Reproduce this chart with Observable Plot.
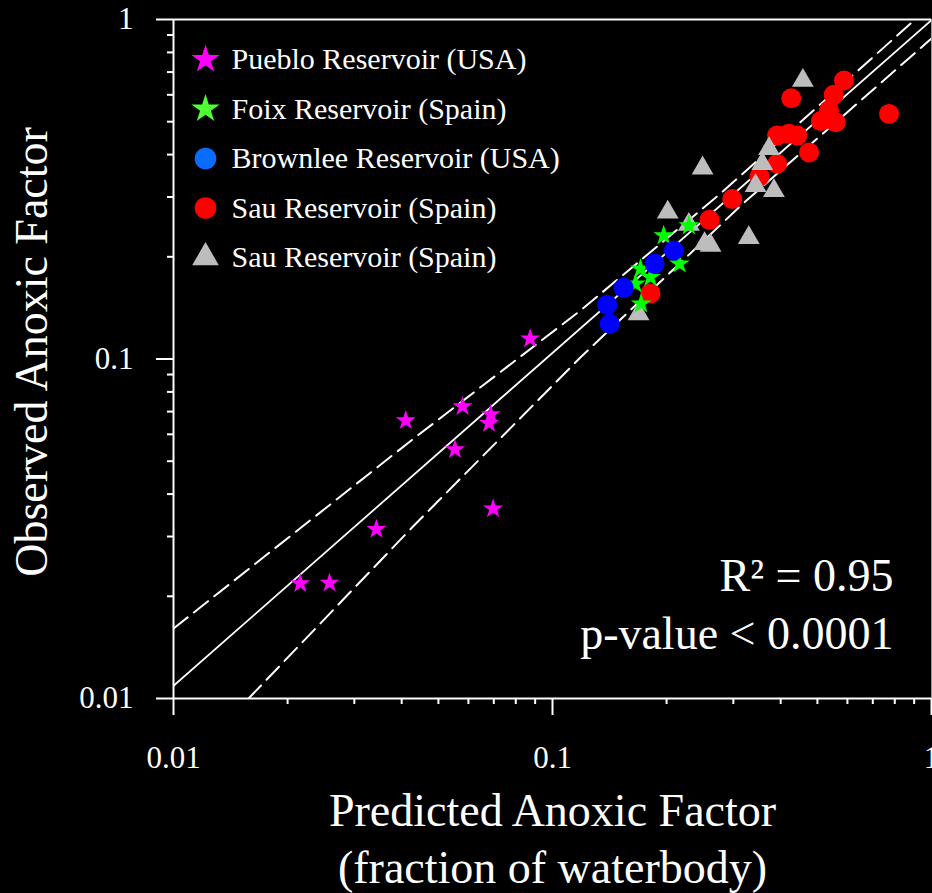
<!DOCTYPE html>
<html>
<head>
<meta charset="utf-8">
<script src="https://cdn.jsdelivr.net/npm/d3@7"></script>
<script src="https://cdn.jsdelivr.net/npm/@observablehq/plot@0.6"></script>
<style>
html, body { margin: 0; padding: 0; background: #000; }
#chart svg { display: block; }
</style>
</head>
<body>
<div id="chart"></div>
<script>
// ---- Data ----
const puebloX = [0.0873, 0.0579, 0.0410, 0.0687, 0.0680, 0.0553, 0.0697, 0.0343, 0.0216, 0.0258];
const puebloY = [0.1147, 0.0725, 0.0659, 0.0686, 0.0647, 0.0541, 0.0362, 0.0315, 0.0218, 0.0219];

const foixX = [0.229, 0.1965, 0.2163, 0.1707, 0.1813, 0.1655, 0.1713];
const foixY = [0.247, 0.231, 0.1907, 0.1844, 0.174, 0.1665, 0.1454];

const brownleeX = [0.209, 0.1859, 0.1541, 0.1394, 0.1415];
const brownleeY = [0.2088, 0.1907, 0.162, 0.1444, 0.127];

const sauRedX = [0.5875, 0.4265, 0.552, 0.5366, 0.7725, 0.5103, 0.5587, 0.3914, 0.4205, 0.4426, 0.4751, 0.3914, 0.3518, 0.2980, 0.2596, 0.1813];
const sauRedY = [0.661, 0.586, 0.600, 0.540, 0.527, 0.502, 0.498, 0.455, 0.461, 0.455, 0.406, 0.376, 0.345, 0.296, 0.257, 0.156];

const sauGrayX = [0.4577, 0.2489, 0.3726, 0.3577, 0.3434, 0.3839, 0.2014, 0.229, 0.2519, 0.2612, 0.3295, 0.1687];
const sauGrayY = [0.661, 0.365, 0.416, 0.376, 0.324, 0.313, 0.2706, 0.249, 0.2185, 0.216, 0.2275, 0.1358];

// regression line and its dashed band
const fitX = [0.01, 1];
const fitY = [0.0109, 0.996];
const upperX = [0.01, 0.02123, 0.04295, 0.1186, 0.2773, 0.889, 0.93];
const upperY = [0.01607, 0.03126, 0.05821, 0.1390, 0.3069, 0.982, 1.03];
const lowerX = [0.01578, 0.04266, 0.1186, 0.3162, 0.9638, 1.0];
const lowerY = [0.01, 0.03194, 0.1012, 0.2851, 0.848, 0.879];

// axes
const majorTicks = [0.01, 0.1, 1];
const majorTickLabels = ["0.01", "0.1", "1"];
const minorTicks = [0.02, 0.03, 0.04, 0.05, 0.06, 0.07, 0.08, 0.09, 0.2, 0.3, 0.4, 0.5, 0.6, 0.7, 0.8, 0.9];
const xTitleLines = ["Predicted Anoxic Factor", "(fraction of waterbody)"];
const yTitle = "Observed Anoxic Factor";

// legend
const legendLabels = ["Pueblo Reservoir (USA)", "Foix Reservoir (Spain)", "Brownlee Reservoir (USA)", "Sau Reservoir (Spain)", "Sau Reservoir (Spain)"];
const legendSymbols = ["star", "star", "circle", "circle", "triangle"];

// annotation
const statsLines = ["R\u00B2 = 0.95", "p-value < 0.0001"];

// ---- Styles ----
const colors = {
  pueblo: "#ff00ff", foix: "#00ff00", brownlee: "#0000ff", sauRed: "#ff0000", sauGray: "#bdbdbd"
};
const legendColors = ["#ff00ff", "#4dff33", "#0a6cff", "#ff0000", "#bdbdbd"];
const legendR = [8.9, 8.9, 10.8, 10.8, 9.9];

const pts = (xs, ys) => xs.map((x, i) => ({x, y: ys[i]}));
const fmt = d => majorTickLabels[majorTicks.indexOf(d)];

const legendMarks = legendLabels.flatMap((label, i) => [
  Plot.dot([label], {frameAnchor: "top-left", dx: 32, dy: 40 + i * 49.5, symbol: legendSymbols[i], r: legendR[i], fill: legendColors[i], stroke: "none"}),
  Plot.text([label], {frameAnchor: "top-left", dx: 58, dy: 40 + i * 49.5, text: d => d, textAnchor: "start", lineAnchor: "middle", fontSize: 30, fill: "white"})
]);

const chart = Plot.plot({
  width: 932,
  height: 893,
  marginLeft: 173,
  marginRight: 1,
  marginTop: 19,
  marginBottom: 195,
  style: {background: "#000", color: "#fff", fontFamily: "'Liberation Serif', 'DejaVu Serif', serif"},
  x: {type: "log", domain: [0.01, 1], axis: null},
  y: {type: "log", domain: [0.01, 1], axis: null},
  marks: [
    Plot.line(pts(upperX, upperY), {x: "x", y: "y", stroke: "white", strokeWidth: 2, strokeDasharray: "18,8", clip: true}),
    Plot.line(pts(lowerX, lowerY), {x: "x", y: "y", stroke: "white", strokeWidth: 2, strokeDasharray: "18,8", clip: true}),
    Plot.line(pts(fitX, fitY), {x: "x", y: "y", stroke: "white", strokeWidth: 1.8, clip: true}),
    Plot.ruleX([1], {stroke: "#9a9a9a", strokeWidth: 1}),
    Plot.ruleY([1], {stroke: "white", strokeWidth: 2}),
    Plot.ruleX([0.01], {stroke: "white", strokeWidth: 2}),
    Plot.ruleY([0.01], {stroke: "white", strokeWidth: 2}),
    Plot.axisX(minorTicks, {tickSize: 6, tickFormat: () => "", label: null, stroke: "white", strokeWidth: 2}),
    Plot.axisX(majorTicks, {tickSize: 17, tickPadding: 30, tickFormat: fmt, label: null, fontSize: 31, stroke: "white", strokeWidth: 2, fill: "white"}),
    Plot.axisY(minorTicks, {tickSize: 6, tickFormat: () => "", label: null, stroke: "white", strokeWidth: 2}),
    Plot.axisY(majorTicks, {tickSize: 17, tickPadding: 23, tickFormat: fmt, label: null, fontSize: 31, stroke: "white", strokeWidth: 2, fill: "white"}),
    Plot.dot(pts(puebloX, puebloY), {x: "x", y: "y", symbol: "star", r: 6.3, fill: colors.pueblo, stroke: "none"}),
    Plot.dot(pts(sauRedX, sauRedY), {x: "x", y: "y", symbol: "circle", r: 10, fill: colors.sauRed, stroke: "none"}),
    Plot.dot(pts(sauGrayX, sauGrayY), {x: "x", y: "y", symbol: "triangle", r: 8.1, fill: colors.sauGray, stroke: "none"}),
    Plot.dot(pts(foixX, foixY), {x: "x", y: "y", symbol: "star", r: 6.5, fill: colors.foix, stroke: "none"}),
    Plot.dot(pts(brownleeX, brownleeY), {x: "x", y: "y", symbol: "circle", r: 10, fill: colors.brownlee, stroke: "none"}),
    ...legendMarks,
    Plot.text([statsLines.join("\n")], {frameAnchor: "bottom-right", dx: -38, dy: -50, text: d => d, textAnchor: "end", lineAnchor: "bottom", lineHeight: 1.25, fontSize: 46, fill: "white"}),
    Plot.text([xTitleLines.join("\n")], {frameAnchor: "bottom", dy: 184, text: d => d, textAnchor: "middle", lineAnchor: "bottom", lineHeight: 1.22, fontSize: 46, fill: "white"}),
    Plot.text([yTitle], {frameAnchor: "left", dx: -127, dy: -7, rotate: -90, text: d => d, textAnchor: "middle", lineAnchor: "bottom", fontSize: 46, fill: "white"})
  ]
});
document.getElementById("chart").appendChild(chart);
</script>
</body>
</html>
